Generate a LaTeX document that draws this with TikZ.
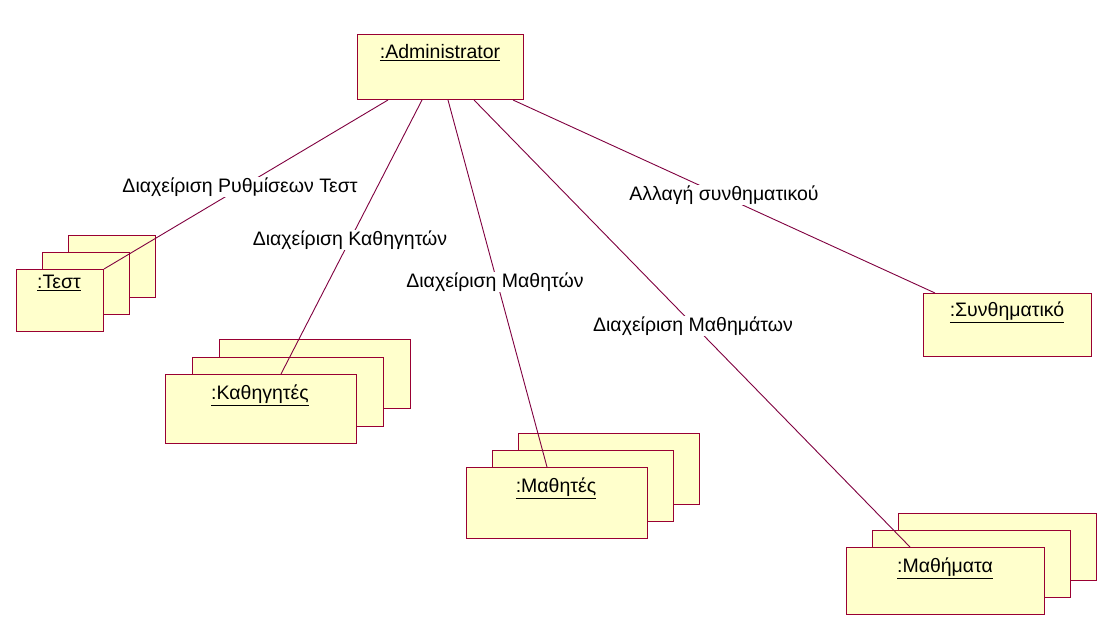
\documentclass[tikz,border=0pt]{standalone}
\usepackage{fontspec}
\setmainfont{Liberation Sans}
\definecolor{boxfill}{RGB}{255,255,204}
\definecolor{boxline}{RGB}{153,0,51}
\definecolor{linkcol}{RGB}{128,0,64}
\begin{document}
\begin{tikzpicture}[x=1pt,y=-1pt,
  obj/.style={draw=boxline, fill=boxfill, line width=1pt, anchor=north west,
              inner sep=0pt, minimum width=#1},
  link/.style={draw=linkcol, line width=0.9pt},
  lbl/.style={fill=white, inner sep=1pt, font=\fontsize{19.5}{22}\selectfont},
  title/.style={font=\fontsize{19.5}{22}\selectfont}]

\useasboundingbox[fill=white] (0,0) rectangle (1100,626);

% single objects
\node[obj=166pt, minimum height=65pt] (admin) at (357,34) {};
\node[title] (admint) at (440,53) {\underline{:Administrator}};

\node[obj=168pt, minimum height=63pt] (synth) at (923,293) {};
\node[title] (syntht) at (1007,312) {\underline{:Συνθηματικό}};

% multi-object stacks: back, middle, front
\node[obj=87pt, minimum height=62pt] (testc) at (68,235) {};
\node[obj=87pt, minimum height=62pt] (testb) at (42,252) {};
\node[obj=87pt, minimum height=62pt] (testa) at (16,269) {};
\node[title] (testt) at (59,283) {\underline{:Τεστ}};

\node[obj=191pt, minimum height=69pt] (kathc) at (219,339) {};
\node[obj=191pt, minimum height=69pt] (kathb) at (192,357) {};
\node[obj=191pt, minimum height=69pt] (katha) at (165,374) {};
\node[title] (katht) at (260,395) {\underline{:Καθηγητές}};

\node[obj=181pt, minimum height=71pt] (mathc) at (518,433) {};
\node[obj=181pt, minimum height=71pt] (mathb) at (492,450) {};
\node[obj=181pt, minimum height=71pt] (matha) at (466,467) {};
\node[title] (matht) at (556,488) {\underline{:Μαθητές}};

\node[obj=198pt, minimum height=67pt] (lesc) at (898,513) {};
\node[obj=198pt, minimum height=67pt] (lesb) at (872,530) {};
\node[obj=198pt, minimum height=67pt] (lesa) at (846,547) {};
\node[title] (lest) at (945,568) {\underline{:Μαθήματα}};

% link end points on the object borders
\path (admin.south west) ++(31,0) coordinate (s1)
      (admin.south west) ++(65,0) coordinate (s2)
      (admin.south west) ++(91,0) coordinate (s3)
      (admin.south west) ++(117,0) coordinate (s4)
      (admin.south west) ++(156,0) coordinate (s5);
\path (katha.north west) ++(116,0) coordinate (e2)
      (matha.north west) ++(81,0) coordinate (e3)
      (lesa.north west) ++(64,0) coordinate (e4)
      (synth.north west) ++(12,0) coordinate (e5);

% links
\draw[link] (s1) -- (testa.north east);
\draw[link] (s2) -- (e2);
\draw[link] (s3) -- (e3);
\draw[link] (s4) -- (e4);
\draw[link] (s5) -- (e5);

% link labels
\node[lbl] (l1) at (240,187) {Διαχείριση Ρυθμίσεων Τεστ};
\node[lbl] (l2) at (350,240) {Διαχείριση Καθηγητών};
\node[lbl] (l3) at (495,282) {Διαχείριση Μαθητών};
\node[lbl] (l4) at (693,326) {Διαχείριση Μαθημάτων};
\node[lbl] (l5) at (724,195) {Αλλαγή συνθηματικού};
\end{tikzpicture}
\end{document}
